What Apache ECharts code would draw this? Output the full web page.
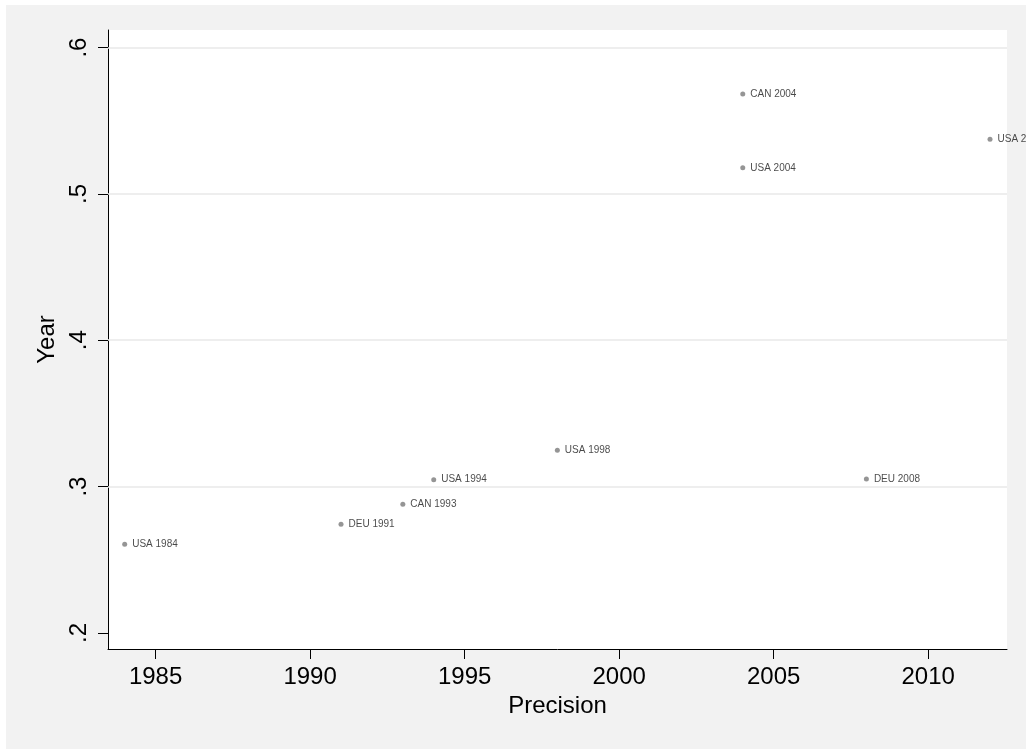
<!DOCTYPE html>
<html>
<head>
<meta charset="utf-8">
<script src="https://cdn.jsdelivr.net/npm/echarts@6/dist/echarts.min.js"></script>
<style>
  html, body { margin: 0; padding: 0; background: #fff; }
  #chart { width: 1026px; height: 749px; }
</style>
</head>
<body>
<div id="chart"></div>
<script>
// Observations: country code, year (x) and value (y)
var countries = ['USA', 'DEU', 'CAN', 'USA', 'USA', 'USA', 'CAN', 'DEU', 'USA'];
var years     = [1984, 1991, 1993, 1994, 1998, 2004, 2004, 2008, 2012];
var values    = [0.2606, 0.2742, 0.2879, 0.3047, 0.3248, 0.5178, 0.5682, 0.3052, 0.5374];

// Axis ticks
var xTicks = [1985, 1990, 1995, 2000, 2005, 2010];
var yTicks = [0.2, 0.3, 0.4, 0.5, 0.6];
var yGrid  = [0.3, 0.4, 0.5, 0.6];

var points = years.map(function (yr, i) {
  return { value: [yr, values[i]], name: countries[i] + ' ' + yr };
});

var FONT = '"Liberation Sans", Helvetica, Arial, sans-serif';

var chart = echarts.init(document.getElementById('chart'), null, { renderer: 'canvas' });

chart.setOption({
  backgroundColor: '#f2f2f2',
  animation: false,
  textStyle: { fontFamily: FONT },
  grid: {
    left: 108, top: 30, right: 19, bottom: 100,
    show: true, backgroundColor: '#ffffff', borderWidth: 0
  },
  xAxis: {
    type: 'value',
    min: 1983.46, max: 2012.55,
    name: 'Precision',
    nameLocation: 'middle',
    nameGap: 38,
    nameTextStyle: { fontSize: 24, color: '#000', fontFamily: FONT },
    axisLine: { show: true, onZero: false, lineStyle: { color: '#000', width: 1 } },
    axisTick: { show: true, length: 10, lineStyle: { color: '#000', width: 1 }, customValues: xTicks },
    axisLabel: {
      fontSize: 24, color: '#000', margin: 16, fontFamily: FONT, customValues: xTicks,
      formatter: function (v) { return String(v); }
    },
    splitLine: { show: false }
  },
  yAxis: {
    type: 'value',
    min: 0.189, max: 0.612,
    name: 'Year',
    nameLocation: 'middle',
    nameRotate: 90,
    nameGap: 47,
    nameTextStyle: { fontSize: 24, color: '#000', fontFamily: FONT },
    axisLine: { show: true, onZero: false, lineStyle: { color: '#000', width: 1 } },
    axisTick: { show: true, length: 10, lineStyle: { color: '#000', width: 1 }, customValues: yTicks },
    axisLabel: {
      fontSize: 24, color: '#000', margin: 17, rotate: 90, fontFamily: FONT,
      customValues: yTicks,
      formatter: function (v) { return v.toFixed(1).replace(/^0/, ''); }
    },
    splitLine: { show: false }
  },
  series: [{
    type: 'scatter',
    data: points,
    symbol: 'circle',
    symbolSize: 5,
    itemStyle: { color: '#7a7a7a' },
    label: {
      show: true,
      position: 'right',
      distance: 5,
      formatter: '{b}',
      fontSize: 10,
      color: '#1a1a1a',
      fontFamily: FONT
    },
    markLine: {
      silent: true,
      symbol: 'none',
      label: { show: false },
      lineStyle: { color: '#e9e9e9', width: 1.5, type: 'solid' },
      data: yGrid.map(function (v) { return { yAxis: v }; })
    }
  }],
  graphic: [
    // outer white margin at top and left
    { type: 'rect', left: 0, top: 0, shape: { width: 1026, height: 5 }, style: { fill: '#fff' }, z: 100 },
    { type: 'rect', left: 0, top: 0, shape: { width: 6, height: 749 }, style: { fill: '#fff' }, z: 100 }
  ]
});
</script>
</body>
</html>
